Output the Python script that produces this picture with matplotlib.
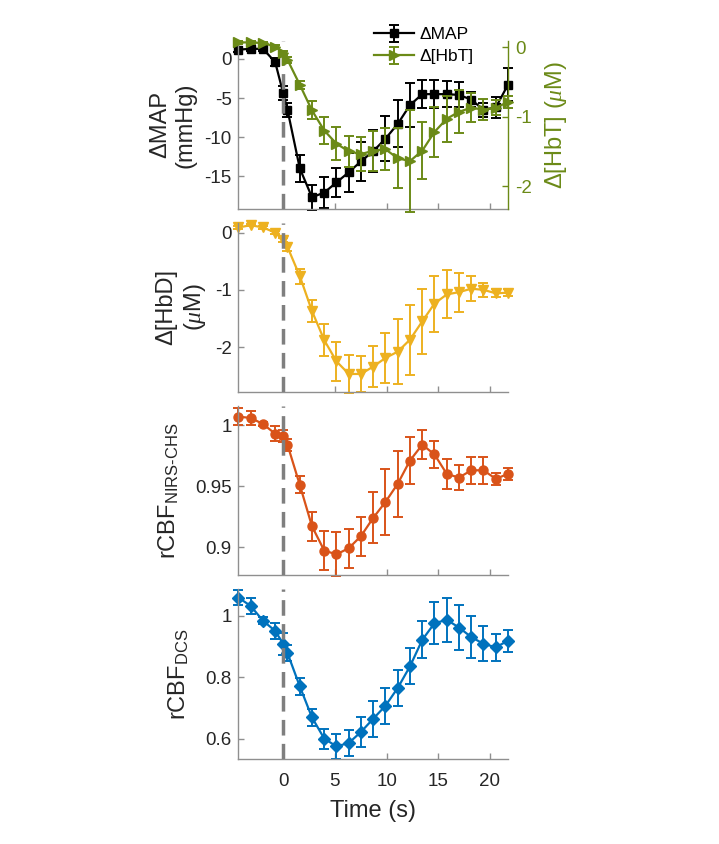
import matplotlib
matplotlib.use("Agg")
import matplotlib.pyplot as plt

plt.rcParams["font.family"] = ["Liberation Sans", "DejaVu Sans"]
plt.rcParams["mathtext.fontset"] = "custom"
plt.rcParams["mathtext.rm"] = "Liberation Sans"
plt.rcParams["mathtext.it"] = "Liberation Serif:italic"
plt.rcParams["axes.unicode_minus"] = False

# time axis (s), one extra sample at the stimulus onset
time = [-4.33, -3.15, -1.96, -0.78, 0.0, 0.41, 1.6, 2.78, 3.97, 5.15, 6.34, 7.52,
        8.71, 9.89, 11.08, 12.26, 13.45, 14.63, 15.82, 17.0, 18.19, 19.37, 20.56, 21.74]

dmap = [1.2, 1.3, 1.3, -0.4, -4.4, -6.5, -14.0, -17.7, -17.1, -15.8, -14.5, -13.1,
        -11.8, -10.2, -8.3, -5.9, -4.5, -4.5, -4.5, -4.6, -5.2, -6.5, -6.2, -3.3]
dmap_err = [0.3, 0.3, 0.3, 0.5, 0.9, 0.9, 1.7, 1.6, 2.0, 1.9, 2.5, 2.5,
            2.7, 2.9, 3.0, 2.8, 1.8, 1.8, 1.7, 1.6, 1.0, 0.9, 1.3, 2.1]

hbt = [0.07, 0.07, 0.06, 0.01, -0.08, -0.18, -0.54, -0.91, -1.2, -1.39, -1.5, -1.54,
       -1.49, -1.47, -1.6, -1.64, -1.49, -1.22, -1.03, -0.93, -0.87, -0.9, -0.87, -0.79]
hbt_err = [0.02, 0.02, 0.02, 0.02, 0.03, 0.04, 0.06, 0.13, 0.2, 0.24, 0.22, 0.24,
           0.29, 0.3, 0.43, 0.74, 0.41, 0.36, 0.33, 0.31, 0.21, 0.15, 0.11, 0.09]

hbd = [0.09, 0.13, 0.09, 0.0, -0.13, -0.25, -0.76, -1.37, -1.88, -2.25, -2.47, -2.47,
       -2.34, -2.19, -2.08, -1.87, -1.55, -1.24, -1.08, -1.04, -0.98, -1.0, -1.06, -1.05]
hbd_err = [0.02, 0.02, 0.02, 0.02, 0.04, 0.07, 0.13, 0.2, 0.28, 0.34, 0.34, 0.32,
           0.35, 0.44, 0.57, 0.61, 0.57, 0.49, 0.42, 0.34, 0.22, 0.12, 0.07, 0.06]

cbf_nirs = [1.007, 1.006, 1.001, 0.993, 0.991, 0.984, 0.951, 0.917, 0.897, 0.894, 0.899, 0.909,
            0.924, 0.937, 0.952, 0.971, 0.984, 0.976, 0.960, 0.957, 0.963, 0.963, 0.956, 0.960]
cbf_nirs_err = [0.007, 0.006, 0.002, 0.006, 0.005, 0.005, 0.007, 0.012, 0.016, 0.018, 0.016, 0.016,
                0.021, 0.027, 0.027, 0.019, 0.012, 0.011, 0.012, 0.010, 0.011, 0.011, 0.005, 0.005]

cbf_dcs = [1.059, 1.032, 0.984, 0.951, 0.909, 0.879, 0.771, 0.670, 0.601, 0.576, 0.587, 0.623,
           0.666, 0.708, 0.766, 0.836, 0.922, 0.976, 0.987, 0.962, 0.931, 0.909, 0.898, 0.919]
cbf_dcs_err = [0.024, 0.026, 0.012, 0.027, 0.035, 0.027, 0.027, 0.027, 0.033, 0.040, 0.043, 0.049,
               0.059, 0.059, 0.059, 0.059, 0.060, 0.069, 0.071, 0.073, 0.069, 0.057, 0.044, 0.035]

xticks = [0, 5, 10, 15, 20]

black = "#000000"
olive = "#6b8a17"
yellow = "#edb120"
orange = "#d95319"
blue = "#0072bd"
spine_grey = "#8f8f8f"
text_dark = "#262626"

fig = plt.figure(figsize=(7.19, 8.44), dpi=100)

left, width = 0.3317, 0.3748
bottoms = [0.7524, 0.5359, 0.3187, 0.1007]
heights = [0.1990, 0.2000, 0.2000, 0.2014]
axes = [fig.add_axes([left, b, width, h]) for b, h in zip(bottoms, heights)]


def style(ax):
    ax.spines["top"].set_visible(False)
    ax.spines["right"].set_visible(False)
    for s in ("left", "bottom"):
        ax.spines[s].set_color(spine_grey)
        ax.spines[s].set_linewidth(1.0)
    ax.tick_params(direction="in", length=4, width=1.0, color=spine_grey,
                   labelcolor=text_dark, labelsize=13.5, pad=5)
    ax.tick_params(axis="x", pad=10)
    ax.set_xlim(time[0], time[-1])
    ax.set_xticks(xticks)
    ax.set_xticklabels([])


def draw(ax, y, err, colour, marker, ms):
    return ax.errorbar(time, y, yerr=err, fmt="-" + marker, color=colour, mfc=colour, mec=colour,
                       ms=ms, lw=1.6, elinewidth=1.4, capsize=3.6, capthick=1.4, clip_on=False)


def onset(ax):
    ax.axvline(0, color="#7f7f7f", lw=2.5, ls=(0, (4.5, 2.4)), zorder=10)


# panel 1: MAP (left) and HbT (right)
ax = axes[0]
style(ax)
map_line = draw(ax, dmap, dmap_err, black, "s", 6)
ax.set_ylim(-19.2, 2.3)
ax.set_yticks([-15, -10, -5, 0])
ax.set_yticklabels(["-15", "-10", "-5", "0"])
ax.set_ylabel("\u0394MAP\n(mmHg)", fontsize=17, color=text_dark, linespacing=1.2)
ax.yaxis.set_label_coords(-0.155, 0.5)
onset(ax)

axr = ax.twinx()
axr.set_position(ax.get_position())
axr.spines["top"].set_visible(False)
axr.spines["left"].set_visible(False)
axr.spines["bottom"].set_visible(False)
axr.spines["right"].set_color(olive)
axr.spines["right"].set_linewidth(1.0)
hbt_line = draw(axr, hbt, hbt_err, olive, ">", 7)
axr.set_ylim(-2.33, 0.09)
axr.set_yticks([-2, -1, 0])
axr.set_yticklabels(["-2", "-1", "0"])
axr.tick_params(direction="in", length=4, width=1.0, color=olive,
                labelcolor=olive, labelsize=13.5, pad=5)
axr.set_ylabel("\u0394[HbT] ($\\mu$M)", fontsize=17, color=olive)
axr.yaxis.set_label_coords(1.13, 0.5)

fig.legend([map_line, hbt_line], ["\u0394MAP", "\u0394[HbT]"],
           loc="upper left", bbox_to_anchor=(0.508, 0.978), frameon=False,
           fontsize=12.5, handlelength=2.3, handletextpad=0.3, borderpad=0,
           labelspacing=0.4)

# panel 2: HbD
ax = axes[1]
style(ax)
draw(ax, hbd, hbd_err, yellow, "v", 7)
ax.set_ylim(-2.78, 0.17)
ax.set_yticks([-2, -1, 0])
ax.set_yticklabels(["-2", "-1", "0"])
ax.set_ylabel("\u0394[HbD]\n($\\mu$M)", fontsize=17, color=text_dark, linespacing=1.2)
ax.yaxis.set_label_coords(-0.115, 0.5)
onset(ax)

# panel 3: rCBF NIRS-CHS
ax = axes[2]
style(ax)
draw(ax, cbf_nirs, cbf_nirs_err, orange, "o", 6.5)
ax.set_ylim(0.877, 1.0156)
ax.set_yticks([0.9, 0.95, 1.0])
ax.set_yticklabels(["0.9", "0.95", "1"])
ax.set_ylabel("rCBF$_{\\mathrm{NIRS\\text{-}CHS}}$", fontsize=17, color=text_dark)
ax.yaxis.set_label_coords(-0.215, 0.5)
onset(ax)

# panel 4: rCBF DCS
ax = axes[3]
style(ax)
draw(ax, cbf_dcs, cbf_dcs_err, blue, "D", 6)
ax.set_ylim(0.535, 1.087)
ax.set_yticks([0.6, 0.8, 1.0])
ax.set_yticklabels(["0.6", "0.8", "1"])
ax.set_ylabel("rCBF$_{\\mathrm{DCS}}$", fontsize=17, color=text_dark)
ax.yaxis.set_label_coords(-0.178, 0.5)
ax.set_xticklabels([str(t) for t in xticks])
ax.set_xlabel("Time (s)", fontsize=17, color=text_dark, labelpad=7)
onset(ax)

fig.savefig("out.png", dpi=100)
